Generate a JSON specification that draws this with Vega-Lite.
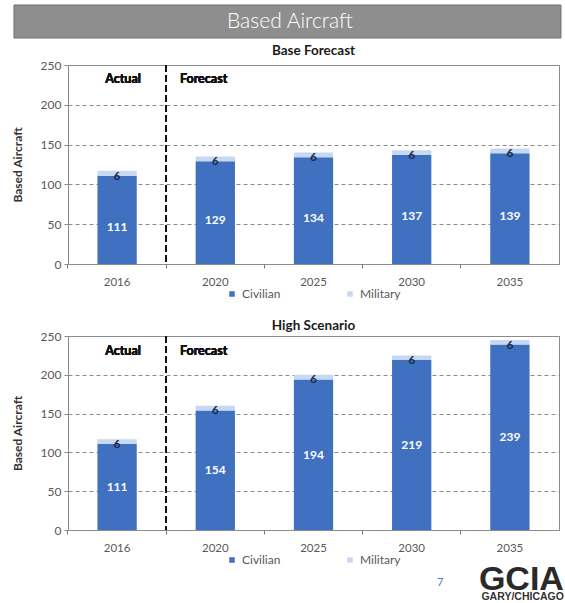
{
  "$schema": "https://vega.github.io/schema/vega-lite/v6.json",
  "padding": {"left": 10, "top": 4, "right": 0, "bottom": 0},
  "background": "white",
  "config": {
    "font": "Lato",
    "view": {"stroke": "#8a8a8a", "strokeWidth": 1},
    "title": {"fontSize": 13.5, "fontWeight": "bold", "color": "#1a1a1a", "anchor": "middle"},
    "axisX": {
      "title": null, "labelAngle": 0, "domain": false, "grid": false,
      "tickSize": 4, "tickColor": "#7a7a7a", "bandPosition": -0.75,
      "labelPadding": 8, "labelFontSize": 11.5, "labelColor": "#595959"
    },
    "axisY": {
      "domain": false, "grid": true, "gridDash": [4, 3], "gridColor": "#8c8c8c",
      "tickCount": 5, "tickSize": 4, "tickColor": "#8c8c8c",
      "labelPadding": 3, "labelFontSize": 12, "labelColor": "#595959",
      "titleFontSize": 12, "titleFontWeight": "bold", "titleColor": "#333333", "titlePadding": 16
    },
    "legend": {
      "orient": "bottom", "direction": "horizontal", "title": null,
      "symbolType": "square", "symbolSize": 30, "symbolStrokeWidth": 0,
      "labelFontSize": 12, "labelColor": "#595959", "labelOffset": 4,
      "columnPadding": 63, "offset": 0, "padding": 0,
      "layout": {"bottom": {"anchor": "middle"}}
    }
  },
  "datasets": {
    "base": [
      {"year": "2016", "Civilian": 111, "Military": 6},
      {"year": "2020", "Civilian": 129, "Military": 6},
      {"year": "2025", "Civilian": 134, "Military": 6},
      {"year": "2030", "Civilian": 137, "Military": 6},
      {"year": "2035", "Civilian": 139, "Military": 6}
    ],
    "high": [
      {"year": "2016", "Civilian": 111, "Military": 6},
      {"year": "2020", "Civilian": 154, "Military": 6},
      {"year": "2025", "Civilian": 194, "Military": 6},
      {"year": "2030", "Civilian": 219, "Military": 6},
      {"year": "2035", "Civilian": 239, "Military": 6}
    ]
  },
  "spacing": -20,
  "vconcat": [
    {
      "spacing": 4,
      "resolve": {"scale": {"color": "independent"}, "legend": {"color": "independent"}},
      "vconcat": [
        {
          "width": 491,
          "height": 33,
          "view": {"stroke": null},
          "data": {"values": [{"heading": "Based Aircraft"}]},
          "layer": [
            {
              "mark": {"type": "rect", "color": "#8e8e8e", "stroke": "#6e6e6e", "strokeWidth": 1},
              "encoding": {
                "x": {"datum": -0.11, "type": "quantitative", "scale": {"domain": [0, 1]}, "axis": null},
                "x2": {"datum": 1.004},
                "y": {"datum": 0, "type": "quantitative", "scale": {"domain": [0, 1]}, "axis": null},
                "y2": {"datum": 1}
              }
            },
            {
              "mark": {"type": "text", "color": "white", "fontSize": 21, "fontWeight": 300},
              "encoding": {
                "x": {"datum": 0.452, "type": "quantitative", "axis": null},
                "y": {"datum": 0.5, "type": "quantitative", "axis": null},
                "text": {"field": "heading"}
              }
            }
          ]
        },
        {
          "spacing": 17,
          "resolve": {"scale": {"color": "independent"}, "legend": {"color": "independent"}},
          "vconcat": [
            {
              "title": {"text": "Base Forecast", "offset": 2},
              "width": 491,
              "height": 199,
              "data": {"name": "base"},
              "resolve": {"scale": {"x": "independent"}},
              "layer": [
                {
                  "layer": [
                    {
                      "transform": [{"fold": ["Civilian", "Military"], "as": ["type", "count"]}],
                      "mark": {"type": "bar"},
                      "encoding": {
                        "x": {"field": "year", "type": "nominal", "scale": {"paddingInner": 0.6, "paddingOuter": 0.3}},
                        "y": {"field": "count", "type": "quantitative", "stack": "zero", "scale": {"domain": [0, 250], "nice": false}, "title": "Based Aircraft"},
                        "color": {"field": "type", "type": "nominal", "scale": {"domain": ["Civilian", "Military"], "range": ["#4070c0", "#c6d9f1"]}},
                        "order": {"field": "type", "sort": "ascending"}
                      }
                    },
                    {
                      "mark": {"type": "text", "color": "white", "fontWeight": "bold", "fontSize": 12, "dy": 7},
                      "encoding": {
                        "x": {"field": "year", "type": "nominal"},
                        "y": {"field": "Civilian", "type": "quantitative", "stack": "zero", "bandPosition": 0.5},
                        "text": {"field": "Civilian", "type": "quantitative"}
                      }
                    },
                    {
                      "mark": {"type": "text", "color": "#1c2a48", "fontWeight": "bold", "fontSize": 12},
                      "encoding": {
                        "x": {"field": "year", "type": "nominal"},
                        "y": {"field": "Civilian", "type": "quantitative"},
                        "text": {"field": "Military", "type": "quantitative"}
                      }
                    }
                  ]
                },
                {
                  "layer": [
                    {
                      "mark": {"type": "rule", "color": "#111111", "strokeWidth": 1.5, "strokeDash": [7, 3]},
                      "encoding": {"x": {"datum": 1, "type": "quantitative", "scale": {"domain": [0, 5]}, "axis": null}}
                    },
                    {
                      "mark": {"type": "text", "text": "Actual", "fontWeight": "bold", "fontSize": 12.5, "color": "#111111"},
                      "encoding": {"x": {"datum": 0.56, "type": "quantitative", "axis": null}, "y": {"datum": 232, "type": "quantitative"}}
                    },
                    {
                      "mark": {"type": "text", "text": "Forecast", "align": "left", "fontWeight": "bold", "fontSize": 12.5, "color": "#111111"},
                      "encoding": {"x": {"datum": 1.14, "type": "quantitative", "axis": null}, "y": {"datum": 232, "type": "quantitative"}}
                    }
                  ]
                }
              ]
            },
            {
              "title": {"text": "High Scenario", "offset": -2},
              "width": 491,
              "height": 194,
              "data": {"name": "high"},
              "resolve": {"scale": {"x": "independent"}},
              "layer": [
                {
                  "layer": [
                    {
                      "transform": [{"fold": ["Civilian", "Military"], "as": ["type", "count"]}],
                      "mark": {"type": "bar"},
                      "encoding": {
                        "x": {"field": "year", "type": "nominal", "scale": {"paddingInner": 0.6, "paddingOuter": 0.3}},
                        "y": {"field": "count", "type": "quantitative", "stack": "zero", "scale": {"domain": [0, 250], "nice": false}, "title": "Based Aircraft"},
                        "color": {"field": "type", "type": "nominal", "scale": {"domain": ["Civilian", "Military"], "range": ["#4070c0", "#c6d9f1"]}},
                        "order": {"field": "type", "sort": "ascending"}
                      }
                    },
                    {
                      "mark": {"type": "text", "color": "white", "fontWeight": "bold", "fontSize": 12},
                      "encoding": {
                        "x": {"field": "year", "type": "nominal"},
                        "y": {"field": "Civilian", "type": "quantitative", "stack": "zero", "bandPosition": 0.5},
                        "text": {"field": "Civilian", "type": "quantitative"}
                      }
                    },
                    {
                      "mark": {"type": "text", "color": "#1c2a48", "fontWeight": "bold", "fontSize": 12},
                      "encoding": {
                        "x": {"field": "year", "type": "nominal"},
                        "y": {"field": "Civilian", "type": "quantitative"},
                        "text": {"field": "Military", "type": "quantitative"}
                      }
                    }
                  ]
                },
                {
                  "layer": [
                    {
                      "mark": {"type": "rule", "color": "#111111", "strokeWidth": 1.5, "strokeDash": [7, 3]},
                      "encoding": {"x": {"datum": 1, "type": "quantitative", "scale": {"domain": [0, 5]}, "axis": null}}
                    },
                    {
                      "mark": {"type": "text", "text": "Actual", "fontWeight": "bold", "fontSize": 12.5, "color": "#111111"},
                      "encoding": {"x": {"datum": 0.56, "type": "quantitative", "axis": null}, "y": {"datum": 231, "type": "quantitative"}}
                    },
                    {
                      "mark": {"type": "text", "text": "Forecast", "align": "left", "fontWeight": "bold", "fontSize": 12.5, "color": "#111111"},
                      "encoding": {"x": {"datum": 1.14, "type": "quantitative", "axis": null}, "y": {"datum": 231, "type": "quantitative"}}
                    }
                  ]
                }
              ]
            }
          ]
        }
      ]
    },
    {
      "width": 491,
      "height": 45,
      "view": {"stroke": null},
      "data": {"values": [{"page": "7", "brand": "GCIA", "place": "GARY/CHICAGO"}]},
      "layer": [
        {
          "mark": {"type": "text", "color": "#4a7ebb", "fontSize": 11},
          "encoding": {
            "x": {"datum": 0.758, "type": "quantitative", "scale": {"domain": [0, 1]}, "axis": null},
            "y": {"datum": 16, "type": "quantitative", "scale": {"domain": [0, 45], "reverse": true}, "axis": null},
            "text": {"field": "page"}
          }
        },
        {
          "mark": {"type": "text", "font": "Liberation Sans", "fontWeight": "bold", "fontSize": 34, "color": "#2a2a2a", "align": "right", "baseline": "alphabetic"},
          "encoding": {
            "x": {"datum": 1.01, "type": "quantitative", "axis": null},
            "y": {"datum": 23, "type": "quantitative", "axis": null},
            "text": {"field": "brand"}
          }
        },
        {
          "mark": {"type": "text", "font": "Liberation Sans", "fontWeight": "bold", "fontSize": 10.5, "color": "#333333", "align": "right", "baseline": "alphabetic"},
          "encoding": {
            "x": {"datum": 1.01, "type": "quantitative", "axis": null},
            "y": {"datum": 33, "type": "quantitative", "axis": null},
            "text": {"field": "place"}
          }
        }
      ]
    }
  ]
}
